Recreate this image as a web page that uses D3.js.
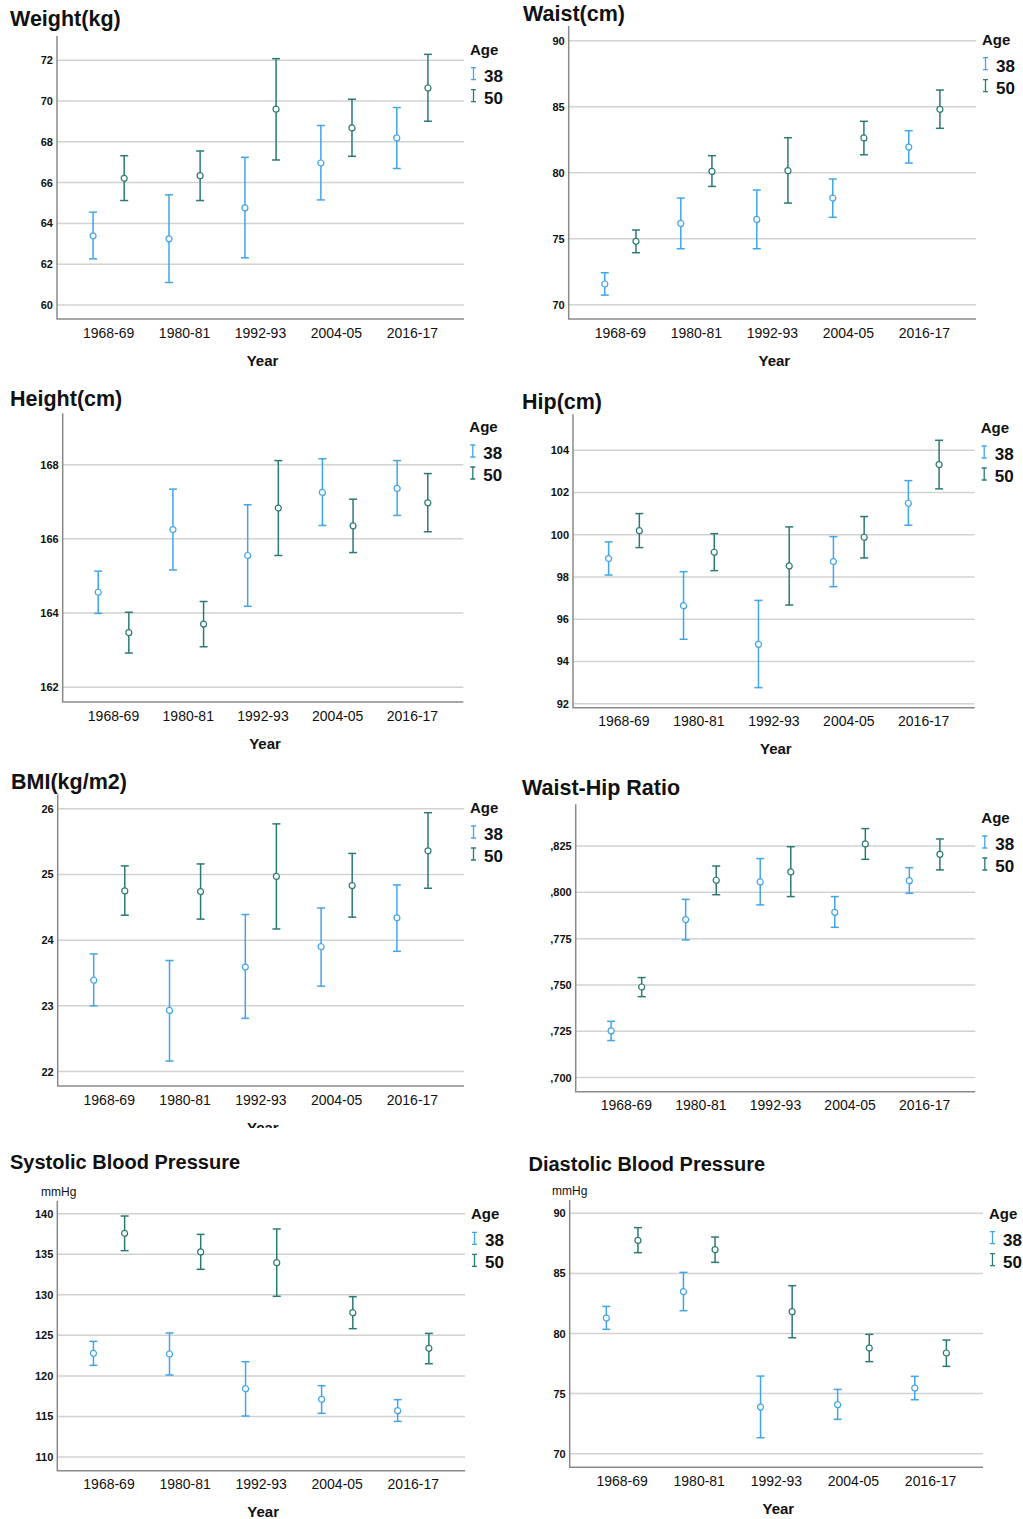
<!DOCTYPE html>
<html>
<head>
<meta charset="utf-8">
<script src="https://cdn.jsdelivr.net/npm/d3@7/dist/d3.min.js"></script>
<style>
  body { margin: 0; background: #fff; }
  svg { display: block; }
  text { font-family: "Liberation Sans", Arial, sans-serif; fill: #111; }
  .ytick { font-family: "Liberation Sans Narrow", "Arial Narrow", "Liberation Sans", sans-serif; font-weight: bold; font-size: 11px; }
</style>
</head>
<body>
<svg id="chart" width="1023" height="1519"></svg>
<script>
const years = ["1968-69", "1980-81", "1992-93", "2004-05", "2016-17"];
const ages = ["38", "50"];

// each entry: [mean, lower CI, upper CI]
const weight38 = [[63.39, 62.26, 64.55], [63.24, 61.10, 65.40], [64.76, 62.31, 67.24], [66.96, 65.15, 68.80], [68.19, 66.69, 69.68]];
const weight50 = [[66.21, 65.12, 67.32], [66.34, 65.12, 67.55], [69.60, 67.11, 72.08], [68.68, 67.29, 70.09], [70.64, 69.01, 72.29]];
const waist38 = [[71.57, 70.73, 72.42], [76.16, 74.24, 78.08], [76.46, 74.24, 78.69], [78.08, 76.62, 79.52], [81.94, 80.73, 83.18]];
const waist50 = [[74.80, 73.94, 75.66], [80.10, 78.96, 81.29], [80.15, 77.70, 82.65], [82.63, 81.36, 83.89], [84.80, 83.36, 86.26]];
const height38 = [[164.56, 163.99, 165.13], [166.25, 165.16, 167.34], [165.55, 164.18, 166.92], [167.25, 166.36, 168.16], [167.36, 166.63, 168.11]];
const height50 = [[163.47, 162.92, 164.02], [163.70, 163.09, 164.31], [166.83, 165.55, 168.11], [166.35, 165.63, 167.07], [166.97, 166.19, 167.76]];
const hip38 = [[98.87, 98.09, 99.66], [96.64, 95.05, 98.25], [94.81, 92.76, 96.89], [98.73, 97.54, 99.91], [101.49, 100.45, 102.56]];
const hip50 = [[100.19, 99.39, 101.00], [99.17, 98.30, 100.05], [98.52, 96.67, 100.37], [99.88, 98.90, 100.86], [103.32, 102.17, 104.47]];
const bmi38 = [[23.39, 23.00, 23.79], [22.93, 22.16, 23.69], [23.59, 22.81, 24.39], [23.90, 23.30, 24.49], [24.34, 23.83, 24.84]];
const bmi50 = [[24.75, 24.38, 25.13], [24.74, 24.32, 25.16], [24.97, 24.17, 25.77], [24.83, 24.35, 25.32], [25.36, 24.79, 25.94]];
const whr38 = [[0.7252, 0.7200, 0.7304], [0.7853, 0.7743, 0.7962], [0.8056, 0.7932, 0.8182], [0.7892, 0.7811, 0.7977], [0.8063, 0.7995, 0.8133]];
const whr50 = [[0.7489, 0.7437, 0.7540], [0.8065, 0.7987, 0.8142], [0.8110, 0.7977, 0.8246], [0.8261, 0.8178, 0.8344], [0.8205, 0.8121, 0.8288]];
const sbp38 = [[122.78, 121.30, 124.26], [122.70, 120.11, 125.29], [118.42, 115.05, 121.75], [117.11, 115.38, 118.79], [115.71, 114.39, 117.07]];
const sbp50 = [[137.58, 135.44, 139.71], [135.28, 133.14, 137.45], [133.96, 129.81, 138.11], [127.79, 125.82, 129.77], [123.40, 121.50, 125.24]];
const dbp38 = [[81.29, 80.35, 82.26], [83.48, 81.90, 85.09], [73.88, 71.33, 76.46], [74.08, 72.86, 75.35], [75.46, 74.49, 76.44]];
const dbp50 = [[87.75, 86.73, 88.81], [86.98, 85.92, 88.03], [81.82, 79.65, 83.98], [78.79, 77.66, 79.93], [78.38, 77.27, 79.46]];

const weightTicks = [60, 62, 64, 66, 68, 70, 72];
const waistTicks = [70, 75, 80, 85, 90];
const heightTicks = [162, 164, 166, 168];
const hipTicks = [92, 94, 96, 98, 100, 102, 104];
const bmiTicks = [22, 23, 24, 25, 26];
const whrTicks = [0.700, 0.725, 0.750, 0.775, 0.800, 0.825];
const sbpTicks = [110, 115, 120, 125, 130, 135, 140];
const dbpTicks = [70, 75, 80, 85, 90];

const colors = { "38": "#42a5ea", "50": "#2b7a74" };
const whrFormat = d => "," + d3.format(".3f")(d).slice(2);

const panels = [
  { title: "Weight(kg)", tx: 10, ty: 26, fs: 21.5, left: 57, right: 464, top: 36, bottom: 319, domain: [59.31, 73.19], ticks: weightTicks, s38: weight38, s50: weight50 },
  { title: "Waist(cm)", tx: 523, ty: 21, fs: 21.5, left: 568.7, right: 976, top: 26, bottom: 319, domain: [68.92, 91.11], ticks: waistTicks, s38: waist38, s50: waist50 },
  { title: "Height(cm)", tx: 10, ty: 406, fs: 21.5, left: 62.7, right: 463.3, top: 413.3, bottom: 702, domain: [161.6, 169.385], ticks: heightTicks, s38: height38, s50: height50 },
  { title: "Hip(cm)", tx: 522, ty: 409, fs: 21.5, left: 573, right: 974.7, top: 414.3, bottom: 707.7, domain: [91.81, 105.7], ticks: hipTicks, s38: hip38, s50: hip50 },
  { title: "BMI(kg/m2)", tx: 11, ty: 789, fs: 21.5, left: 57.7, right: 464, top: 794.3, bottom: 1086, domain: [21.78, 26.22], ticks: bmiTicks, s38: bmi38, s50: bmi50, clip: 1128 },
  { title: "Waist-Hip Ratio", tx: 522, ty: 795, fs: 21.5, left: 575.7, right: 975.3, top: 804.3, bottom: 1091.7, domain: [0.6924, 0.8475], ticks: whrTicks, fmt: whrFormat, s38: whr38, s50: whr50, clip: 1128 },
  { title: "Systolic Blood Pressure", tx: 10, ty: 1169, fs: 20, left: 57.3, right: 465, top: 1200.7, bottom: 1470.7, domain: [108.31, 141.6], ticks: sbpTicks, unit: "mmHg", ux: 41, s38: sbp38, s50: sbp50 },
  { title: "Diastolic Blood Pressure", tx: 528.5, ty: 1171, fs: 20, left: 569.7, right: 983, top: 1200, bottom: 1467.3, domain: [68.87, 91.11], ticks: dbpTicks, unit: "mmHg", ux: 552, s38: dbp38, s50: dbp50 }
];

const svg = d3.select("#chart");
const defs = svg.append("defs");

panels.forEach((p, pi) => {
  let g = svg.append("g");
  if (p.clip) {
    defs.append("clipPath").attr("id", "clip" + pi)
      .append("rect").attr("x", 0).attr("y", 0).attr("width", 1023).attr("height", p.clip);
    g.attr("clip-path", "url(#clip" + pi + ")");
  }

  let x = d3.scalePoint().domain(years).range([p.left, p.right]).padding(0.68);
  let y = d3.scaleLinear().domain(p.domain).range([p.bottom, p.top]);
  let off = x.step() * 0.205;

  // title
  g.append("text").attr("x", p.tx).attr("y", p.ty)
    .style("font-size", p.fs + "px").style("font-weight", "bold").text(p.title);

  if (p.unit) {
    g.append("text").attr("x", p.ux).attr("y", p.top - 5)
      .style("font-size", "12px").text(p.unit);
  }

  // gridlines
  g.selectAll(".grid").data(p.ticks).enter().append("line")
    .attr("x1", p.left).attr("x2", p.right)
    .attr("y1", d => y(d)).attr("y2", d => y(d))
    .attr("stroke", "#d2d2d2").attr("stroke-width", 1.5);

  // y tick labels
  g.selectAll(".ytick").data(p.ticks).enter().append("text")
    .attr("class", "ytick")
    .attr("x", p.left - 4).attr("y", d => y(d) + 4)
    .attr("text-anchor", "end")
    .text(d => p.fmt ? p.fmt(d) : d);

  // axis lines
  g.append("path")
    .attr("d", `M${p.left},${p.top}V${p.bottom}H${p.right}`)
    .attr("fill", "none").attr("stroke", "#8a8a8a").attr("stroke-width", 1.5);

  // x tick labels
  g.selectAll(".xtick").data(years).enter().append("text")
    .attr("x", d => x(d)).attr("y", p.bottom + 18.5)
    .attr("text-anchor", "middle").style("font-size", "14px")
    .text(d => d);

  g.append("text")
    .attr("x", (p.left + p.right) / 2 + 2).attr("y", p.bottom + 46.5)
    .attr("text-anchor", "middle").style("font-size", "15px").style("font-weight", "bold")
    .text("Year");

  // error bars
  ages.forEach((a, ai) => {
    let series = ai === 0 ? p.s38 : p.s50;
    let dx = ai === 0 ? -off : off;
    let c = colors[a];
    let bars = g.append("g").selectAll("g").data(series).enter().append("g")
      .attr("transform", (d, i) => `translate(${x(years[i]) + dx},0)`);
    bars.append("line").attr("x1", 0).attr("x2", 0)
      .attr("y1", d => y(d[1])).attr("y2", d => y(d[2]))
      .attr("stroke", c).attr("stroke-width", 1.5);
    bars.append("line").attr("x1", -4).attr("x2", 4)
      .attr("y1", d => y(d[2])).attr("y2", d => y(d[2]))
      .attr("stroke", c).attr("stroke-width", 1.5);
    bars.append("line").attr("x1", -4).attr("x2", 4)
      .attr("y1", d => y(d[1])).attr("y2", d => y(d[1]))
      .attr("stroke", c).attr("stroke-width", 1.5);
    bars.append("circle").attr("cx", 0).attr("cy", d => y(d[0])).attr("r", 3)
      .attr("fill", "#fff").attr("stroke", c).attr("stroke-width", 1.2);
  });

  // legend
  let lx = p.right + 6, ly = p.top + 18.7;
  g.append("text").attr("x", lx).attr("y", ly)
    .style("font-size", "15px").style("font-weight", "bold").text("Age");
  ages.forEach((a, ai) => {
    let by = ly + 27 + ai * 22;
    let gx = lx + 3.5;
    g.append("path")
      .attr("d", `M${gx - 2.5},${by - 14}H${gx + 2.5}M${gx},${by - 14}V${by - 2}M${gx - 2.5},${by - 2}H${gx + 2.5}`)
      .attr("fill", "none").attr("stroke", colors[a]).attr("stroke-width", 1.3);
    g.append("text").attr("x", lx + 14).attr("y", by)
      .style("font-size", "17px").style("font-weight", "bold").text(a);
  });
});
</script>
</body>
</html>
